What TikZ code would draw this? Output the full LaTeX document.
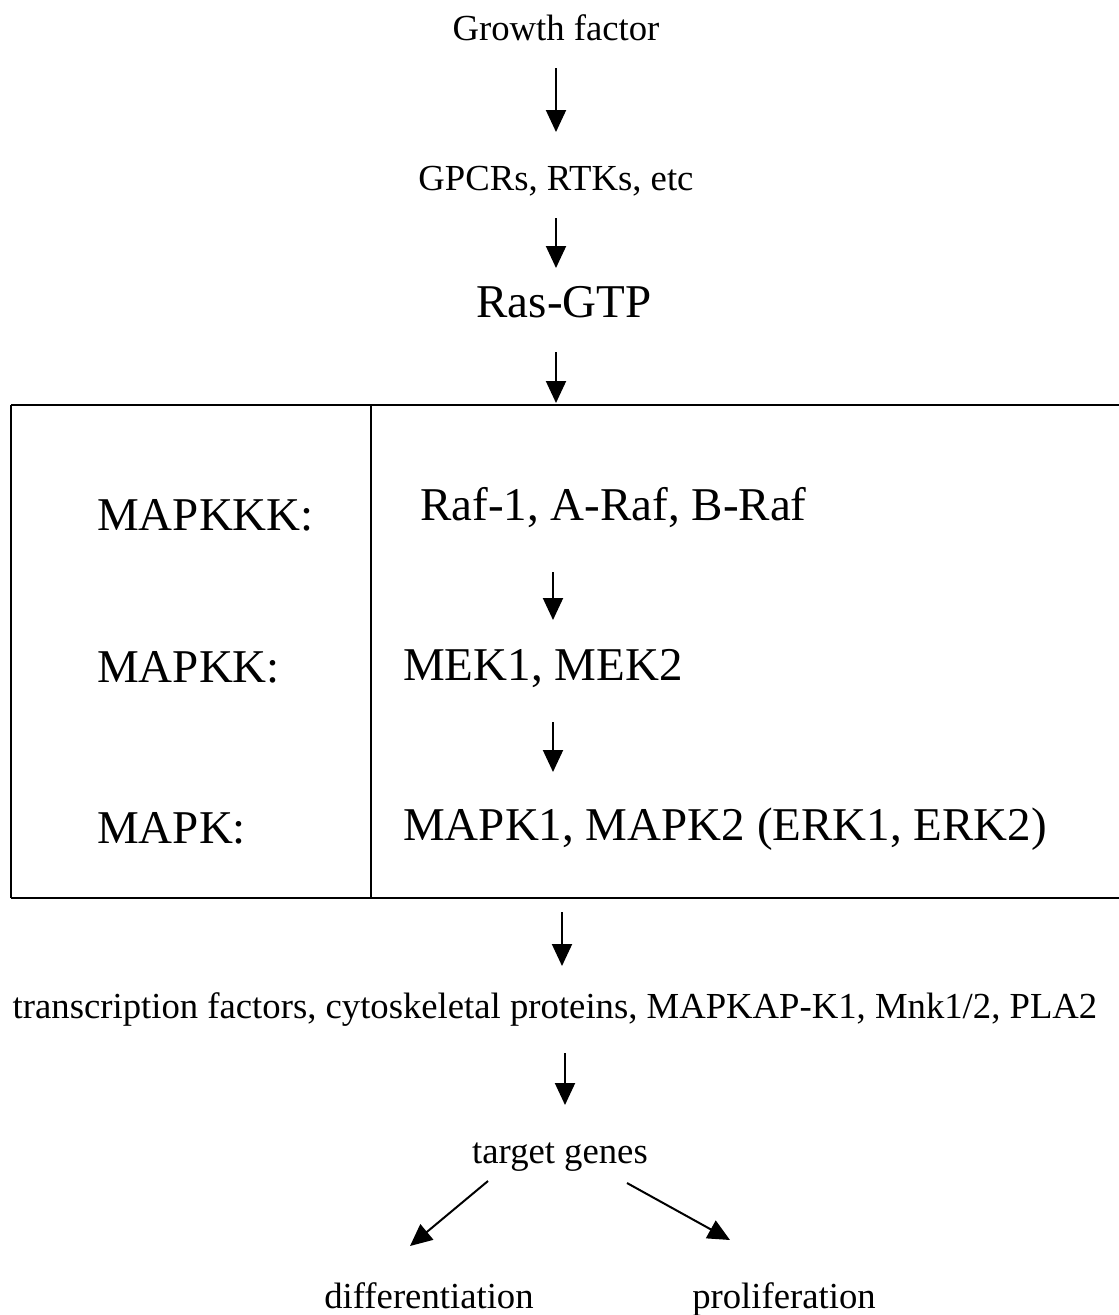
\documentclass[tikz,border=0pt]{standalone}
\usepackage{fontspec}
\setmainfont{Liberation Serif}
\usetikzlibrary{arrows.meta}
\begin{document}
\begin{tikzpicture}[x=1pt,y=-1pt,
  small/.style={inner sep=0pt,font=\fontsize{36.7}{44}\selectfont},
  large/.style={inner sep=0pt,font=\fontsize{47}{56}\selectfont},
  arr/.style={line width=2pt,-{Triangle[length=22pt,width=20pt]}},
  frame/.style={line width=2.5pt}]
\useasboundingbox (0,0) rectangle (1119,1315);
\clip (0,0) rectangle (1119,1315);

% upstream signals
\node[small,anchor=base] (gf)  at (556,40)  {Growth factor};
\node[small,anchor=base] (rec) at (556,190) {GPCRs, RTKs, etc};
\node[large,anchor=base] (ras) at (564,317) {Ras-GTP};

% kinase cascade table
\draw[frame] (11,405) -- (1130,405);
\draw[frame] (11,898) -- (1130,898);
\draw[frame] (11,405) -- (11,898);
\draw[line width=2pt] (371,405) -- (371,898);

\node[large,anchor=base west] (kkk) at (97,530) {MAPKKK:};
\node[large,anchor=base west] (kk)  at (97,682) {MAPKK:};
\node[large,anchor=base west] (k)   at (97,843) {MAPK:};

\node[large,anchor=base west] (raf) at (420,520) {Raf-1, A-Raf, B-Raf};
\node[large,anchor=base west] (mek) at (403,680) {MEK1, MEK2};
\node[large,anchor=base west] (erk) at (403,840) {MAPK1, MAPK2 (ERK1, ERK2)};

% downstream
\node[small,anchor=base] (sub) at (555,1018) {transcription factors, cytoskeletal proteins, MAPKAP-K1, Mnk1/2, PLA2};
\node[small,anchor=base] (tg)  at (560,1163) {target genes};
\node[small,anchor=base] (dif) at (429,1308) {differentiation};
\node[small,anchor=base] (pro) at (784,1308) {proliferation};

% arrow end points
\coordinate (a1s) at (556,68);   \coordinate (a1e) at (556,132);
\coordinate (a2s) at (556,218);  \coordinate (a2e) at (556,268);
\coordinate (a3s) at (556,352);  \coordinate (a3e) at (556,403);
\coordinate (a4s) at (553,572);  \coordinate (a4e) at (553,620);
\coordinate (a5s) at (553,722);  \coordinate (a5e) at (553,772);
\coordinate (a6s) at (562,912);  \coordinate (a6e) at (562,966);
\coordinate (a7s) at (565,1053); \coordinate (a7e) at (565,1105);
\coordinate (a8s) at (488,1181); \coordinate (a8e) at (410,1246);
\coordinate (a9s) at (627,1183); \coordinate (a9e) at (730,1240);

\draw[arr] (a1s) -- (a1e);
\draw[arr] (a2s) -- (a2e);
\draw[arr] (a3s) -- (a3e);
\draw[arr] (a4s) -- (a4e);
\draw[arr] (a5s) -- (a5e);
\draw[arr] (a6s) -- (a6e);
\draw[arr] (a7s) -- (a7e);
\draw[arr] (a8s) -- (a8e);
\draw[arr] (a9s) -- (a9e);
\end{tikzpicture}
\end{document}
